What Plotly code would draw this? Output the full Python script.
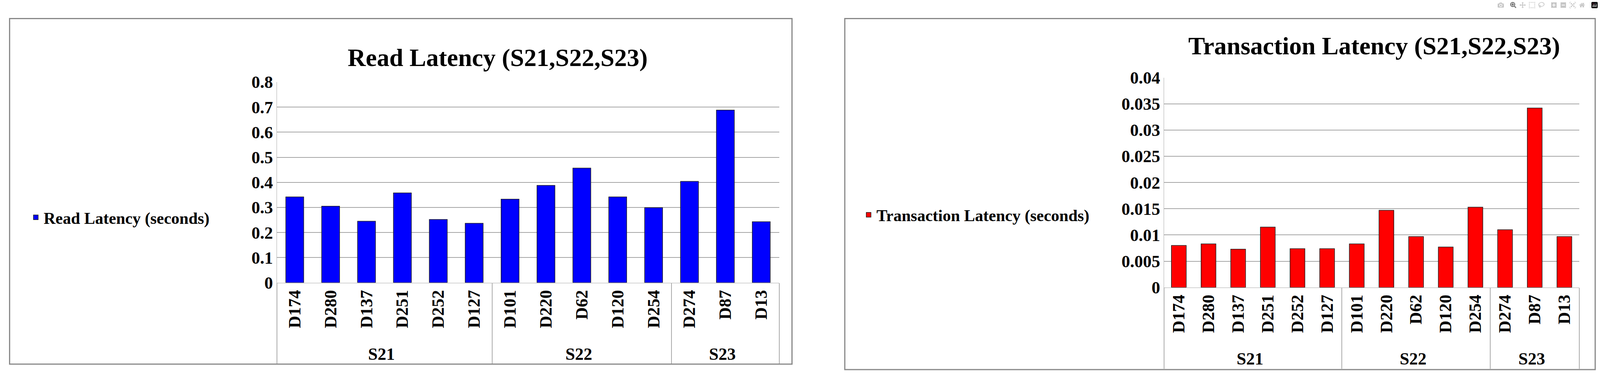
import plotly.graph_objects as go

groups = ["S21"]*6 + ["S22"]*5 + ["S23"]*3
disks = ["D174", "D280", "D137", "D251", "D252", "D127", "D101", "D220", "D62", "D120", "D254", "D274", "D87", "D13"]
read_latency = [0.342, 0.305, 0.245, 0.358, 0.252, 0.237, 0.333, 0.388, 0.457, 0.342, 0.299, 0.404, 0.688, 0.243]
trans_latency = [0.0080, 0.0083, 0.0073, 0.0115, 0.0074, 0.0074, 0.0083, 0.0147, 0.0097, 0.0077, 0.0153, 0.0110, 0.0342, 0.0097]

FONT = "Liberation Serif"
fig = go.Figure()

fig.add_trace(go.Bar(x=[groups, disks], y=read_latency, name="Read Latency (seconds)",
                     marker=dict(color="#0000ff", line=dict(color="#222222", width=1.5)),
                     xaxis="x", yaxis="y", legend="legend"))
fig.add_trace(go.Bar(x=[groups, disks], y=trans_latency, name="Transaction Latency (seconds)",
                     marker=dict(color="#ff0000", line=dict(color="#222222", width=1.5)),
                     xaxis="x2", yaxis="y2", legend="legend2"))

axis_x = dict(type="multicategory", tickangle=-90, showgrid=False, showline=True, linecolor="#aaaaaa",
              showdividers=True, dividercolor="#aaaaaa", dividerwidth=1.5,
              tickfont=dict(family=FONT, size=44, color="black", weight="bold"))
axis_y = dict(showgrid=True, gridcolor="#a6a6a6", gridwidth=2, showline=True, linecolor="#aaaaaa",
              ticks="", zeroline=False, tickfont=dict(family=FONT, size=44, color="black", weight="bold"))

fig.update_layout(
    autosize=True, margin=dict(l=0, r=0, t=0, b=0),
    paper_bgcolor="white", plot_bgcolor="white", bargap=0.5, barmode="group",
    font=dict(family=FONT, color="black", weight="bold"),
    xaxis=dict(axis_x, domain=[0.173, 0.487], anchor="y"),
    yaxis=dict(axis_y, domain=[0.255, 0.802], range=[0, 0.8], dtick=0.1, anchor="x"),
    xaxis2=dict(axis_x, domain=[0.7275, 0.987], anchor="y2"),
    yaxis2=dict(axis_y, domain=[0.242, 0.814], range=[0, 0.04], dtick=0.005, anchor="x2"),
    legend=dict(x=0.0175, y=0.433, yanchor="middle", itemwidth=30,
                font=dict(family=FONT, size=42, color="black", weight="bold")),
    legend2=dict(x=0.538, y=0.44, yanchor="middle", itemwidth=30,
                 font=dict(family=FONT, size=42, color="black", weight="bold")),
    showlegend=True,
)

fig.add_annotation(text="Read Latency (S21,S22,S23)", x=0.311, y=0.868, xref="paper", yref="paper",
                   xanchor="center", yanchor="middle", showarrow=False,
                   font=dict(family=FONT, size=64, color="black", weight="bold"))
fig.add_annotation(text="Transaction Latency (S21,S22,S23)", x=0.859, y=0.9, xref="paper", yref="paper",
                   xanchor="center", yanchor="middle", showarrow=False,
                   font=dict(family=FONT, size=64, color="black", weight="bold"))

fig.add_shape(type="rect", xref="paper", yref="paper", x0=0.006, x1=0.495, y0=0.033, y1=0.975,
              line=dict(color="#888888", width=3))
fig.add_shape(type="rect", xref="paper", yref="paper", x0=0.528, x1=0.997, y0=0.018, y1=0.975,
              line=dict(color="#888888", width=3))

fig.write_html("out.html", config={"responsive": True}, default_width="100vw", default_height="100vh",
               post_script="document.body.style.margin='0';document.body.style.overflow='hidden';"
                           "Plotly.Plots.resize(document.getElementById('{plot_id}'));")
